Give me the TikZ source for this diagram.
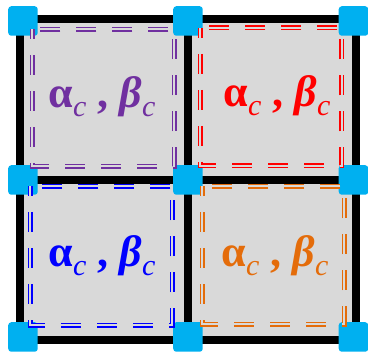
\documentclass[tikz,border=0pt]{standalone}
\usepackage{fontspec}
\setmainfont{Liberation Serif}
\definecolor{cellgray}{HTML}{D9D9D9}
\definecolor{padblue}{HTML}{00B0F0}
\definecolor{apurple}{HTML}{7030A0}
\definecolor{ared}{HTML}{FF0000}
\definecolor{ablue}{HTML}{0000FF}
\definecolor{aorange}{HTML}{E46C0A}
\newcommand{\lowsub}[1]{\raisebox{-9pt}{\fontsize{30}{30}\selectfont\textit{#1}}}
\newcommand{\abpair}{\textbf{α}\lowsub{c}\ \textbf{,}\ \textbf{\textit{β}}\lowsub{c}}

\begin{document}
\begin{tikzpicture}[
  x=1pt, y=-1pt,
  gridline/.style={line width=8pt, draw=black},
  pad/.style={draw=none, fill=padblue, rounded corners=3pt,
    minimum size=29.5pt, inner sep=0pt},
  zone/.style={line width=1.5pt, double=cellgray, double distance=2pt,
    dash pattern=on 20pt off 16pt, dash phase=10pt},
  lbl/.style={anchor=base, inner sep=0pt, font=\fontsize{44}{44}\selectfont}
]
\useasboundingbox (0,0) rectangle (368,353);

% grid corners
\coordinate (g00) at (20,19);
\coordinate (g10) at (188,19);
\coordinate (g20) at (356,19);
\coordinate (g01) at (20,180);
\coordinate (g21) at (356,180);
\coordinate (g02) at (20,340);
\coordinate (g12) at (188,340);
\coordinate (g22) at (356,340);

\fill[cellgray] (g00) rectangle (g22);
\draw[gridline] (g00) rectangle (g22);
\draw[gridline] (g10) -- (g12);
\draw[gridline] (g01) -- (g21);

% blue pads
\foreach \px/\cx in {0/23, 1/188, 2/353.5}
  \foreach \py/\cy in {0/21, 1/180, 2/337}
    \node[pad] (pad\px\py) at (\cx,\cy) {};

% labels
\node[lbl, text=apurple] (labTL) at (102,108) {\abpair};
\node[lbl, text=ared]    (labTR) at (277,107) {\abpair};
\node[lbl, text=ablue]   (labBL) at (102,267) {\abpair};
\node[lbl, text=aorange] (labBR) at (275,267) {\abpair};

% dashed zones
\draw[zone, draw=apurple] (32.5,29.5) rectangle (174.5,166.5);
\draw[zone, draw=ared]    (200.5,28) rectangle (342,166);
\draw[zone, draw=ablue]   (30.5,186.5) rectangle (172.5,325.5);
\draw[zone, draw=aorange] (202.5,186.5) rectangle (344.5,324.5);
\end{tikzpicture}
\end{document}
